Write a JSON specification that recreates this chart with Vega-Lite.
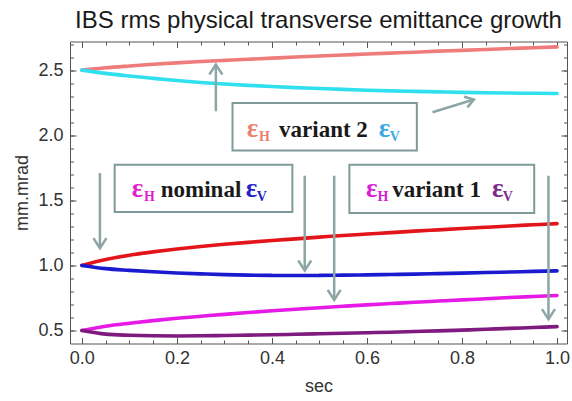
{
  "$schema": "https://vega.github.io/schema/vega-lite/v6.json",
  "width": 497,
  "height": 302,
  "autosize": "none",
  "padding": {"left": 70, "top": 41.5, "right": 5, "bottom": 57.5},
  "background": "white",
  "title": {
    "text": "IBS rms physical transverse emittance growth",
    "font": "Liberation Sans",
    "fontSize": 24,
    "fontWeight": "normal",
    "color": "#1a1a1a",
    "anchor": "middle",
    "offset": 7
  },
  "config": {
    "view": {"stroke": null},
    "axis": {
      "grid": false,
      "domainColor": "#555555",
      "domainWidth": 1,
      "tickColor": "#555555",
      "tickWidth": 1,
      "labelFont": "Liberation Sans",
      "labelFontSize": 18,
      "labelColor": "#333333",
      "titleFont": "Liberation Sans",
      "titleFontSize": 18,
      "titleFontWeight": "normal",
      "titleColor": "#333333"
    }
  },
  "datasets": {
    "curves": [
      {"t": 0.00, "v2H": 2.500, "v2V": 2.500, "nH": 1.000, "nV": 1.000, "v1H": 0.500, "v1V": 0.500},
      {"t": 0.05, "v2H": 2.518, "v2V": 2.475, "nH": 1.045, "nV": 0.975, "v1H": 0.533, "v1V": 0.472},
      {"t": 0.10, "v2H": 2.532, "v2V": 2.455, "nH": 1.078, "nV": 0.962, "v1H": 0.556, "v1V": 0.463},
      {"t": 0.15, "v2H": 2.545, "v2V": 2.437, "nH": 1.104, "nV": 0.951, "v1H": 0.576, "v1V": 0.459},
      {"t": 0.20, "v2H": 2.556, "v2V": 2.420, "nH": 1.126, "nV": 0.942, "v1H": 0.594, "v1V": 0.458},
      {"t": 0.25, "v2H": 2.566, "v2V": 2.405, "nH": 1.145, "nV": 0.935, "v1H": 0.609, "v1V": 0.459},
      {"t": 0.30, "v2H": 2.575, "v2V": 2.393, "nH": 1.162, "nV": 0.929, "v1H": 0.624, "v1V": 0.461},
      {"t": 0.35, "v2H": 2.584, "v2V": 2.383, "nH": 1.177, "nV": 0.925, "v1H": 0.638, "v1V": 0.464},
      {"t": 0.40, "v2H": 2.592, "v2V": 2.374, "nH": 1.191, "nV": 0.923, "v1H": 0.651, "v1V": 0.467},
      {"t": 0.45, "v2H": 2.601, "v2V": 2.366, "nH": 1.204, "nV": 0.922, "v1H": 0.663, "v1V": 0.471},
      {"t": 0.50, "v2H": 2.609, "v2V": 2.359, "nH": 1.217, "nV": 0.923, "v1H": 0.675, "v1V": 0.475},
      {"t": 0.55, "v2H": 2.616, "v2V": 2.352, "nH": 1.230, "nV": 0.925, "v1H": 0.686, "v1V": 0.479},
      {"t": 0.60, "v2H": 2.624, "v2V": 2.346, "nH": 1.241, "nV": 0.927, "v1H": 0.697, "v1V": 0.483},
      {"t": 0.65, "v2H": 2.631, "v2V": 2.341, "nH": 1.252, "nV": 0.930, "v1H": 0.707, "v1V": 0.487},
      {"t": 0.70, "v2H": 2.638, "v2V": 2.337, "nH": 1.263, "nV": 0.933, "v1H": 0.717, "v1V": 0.492},
      {"t": 0.75, "v2H": 2.646, "v2V": 2.333, "nH": 1.273, "nV": 0.937, "v1H": 0.726, "v1V": 0.497},
      {"t": 0.80, "v2H": 2.652, "v2V": 2.329, "nH": 1.283, "nV": 0.941, "v1H": 0.735, "v1V": 0.503},
      {"t": 0.85, "v2H": 2.659, "v2V": 2.326, "nH": 1.293, "nV": 0.945, "v1H": 0.744, "v1V": 0.509},
      {"t": 0.90, "v2H": 2.666, "v2V": 2.324, "nH": 1.303, "nV": 0.949, "v1H": 0.753, "v1V": 0.516},
      {"t": 0.95, "v2H": 2.672, "v2V": 2.322, "nH": 1.312, "nV": 0.954, "v1H": 0.761, "v1V": 0.523},
      {"t": 1.00, "v2H": 2.679, "v2V": 2.320, "nH": 1.321, "nV": 0.958, "v1H": 0.769, "v1V": 0.530}
    ],
    "boxes": [
      {"box": "variant 2", "t0": 0.317, "t1": 0.705, "v0": 1.882, "v1": 2.248},
      {"box": "nominal", "t0": 0.069, "t1": 0.443, "v0": 1.410, "v1": 1.774},
      {"box": "variant 1", "t0": 0.563, "t1": 0.952, "v0": 1.402, "v1": 1.774}
    ],
    "arrows": [
      {"dir": "up", "t": 0.282, "v": 2.184, "t2": 0.282, "v2": 2.543},
      {"dir": "upright", "t": 0.738, "v": 2.176, "t2": 0.825, "v2": 2.274},
      {"dir": "down", "t": 0.038, "v": 1.710, "t2": 0.038, "v2": 1.133},
      {"dir": "down", "t": 0.469, "v": 1.689, "t2": 0.469, "v2": 0.961},
      {"dir": "down", "t": 0.531, "v": 1.689, "t2": 0.531, "v2": 0.735},
      {"dir": "down", "t": 0.982, "v": 1.689, "t2": 0.982, "v2": 0.587}
    ],
    "labels": [
      {"kind": "eps", "ink": "v2H", "text": "ε", "t": 0.347, "v": 1.989},
      {"kind": "sub", "ink": "v2H", "text": "H", "t": 0.373, "v": 1.958},
      {"kind": "word", "ink": "ink", "text": "variant 2", "t": 0.415, "v": 1.989},
      {"kind": "eps", "ink": "v2V", "text": "ε", "t": 0.625, "v": 1.989},
      {"kind": "sub", "ink": "v2V", "text": "V", "t": 0.648, "v": 1.958},
      {"kind": "eps", "ink": "nH", "text": "ε", "t": 0.105, "v": 1.525},
      {"kind": "sub", "ink": "nH", "text": "H", "t": 0.131, "v": 1.492},
      {"kind": "word", "ink": "ink", "text": "nominal", "t": 0.166, "v": 1.525},
      {"kind": "eps", "ink": "nV", "text": "ε", "t": 0.345, "v": 1.525},
      {"kind": "sub", "ink": "nV", "text": "V", "t": 0.368, "v": 1.492},
      {"kind": "eps", "ink": "v1H", "text": "ε", "t": 0.598, "v": 1.525},
      {"kind": "sub", "ink": "v1H", "text": "H", "t": 0.622, "v": 1.492},
      {"kind": "word", "ink": "ink", "text": "variant 1", "t": 0.653, "v": 1.525},
      {"kind": "eps", "ink": "v1V", "text": "ε", "t": 0.863, "v": 1.525},
      {"kind": "sub", "ink": "v1V", "text": "V", "t": 0.886, "v": 1.492}
    ]
  },
  "layer": [
    {
      "data": {"name": "boxes"},
      "mark": {"type": "rect", "fill": "white", "stroke": "#7f9b99", "strokeWidth": 2},
      "encoding": {
        "x": {"field": "t0", "type": "quantitative",
              "scale": {"domain": [-0.025, 1.021], "nice": false, "zero": false},
              "axis": {"orient": "bottom", "values": [0, 0.05, 0.1, 0.15, 0.2, 0.25, 0.3, 0.35, 0.4, 0.45, 0.5, 0.55, 0.6, 0.65, 0.7, 0.75, 0.8, 0.85, 0.9, 0.95, 1.0],
                       "tickSize": -3.5, "labels": false, "domain": false, "title": null}},
        "x2": {"field": "t1"},
        "y": {"field": "v0", "type": "quantitative",
              "scale": {"domain": [0.40, 2.72], "nice": false, "zero": false},
              "axis": {"orient": "left", "values": [0.5, 0.6, 0.7, 0.8, 0.9, 1.0, 1.1, 1.2, 1.3, 1.4, 1.5, 1.6, 1.7, 1.8, 1.9, 2.0, 2.1, 2.2, 2.3, 2.4, 2.5, 2.6, 2.7],
                       "tickSize": -3.5, "labels": false, "domain": false, "title": null}},
        "y2": {"field": "v1"}
      }
    },
    {
      "data": {"name": "curves"},
      "transform": [{"fold": ["v2H", "v2V", "nH", "nV", "v1H", "v1V"], "as": ["series", "v"]}],
      "mark": {"type": "line", "strokeWidth": 3.6, "strokeCap": "round", "interpolate": "monotone"},
      "encoding": {
        "x": {"field": "t", "type": "quantitative",
              "scale": {"domain": [-0.025, 1.021], "nice": false, "zero": false},
              "axis": {"orient": "bottom", "values": [0, 0.2, 0.4, 0.6, 0.8, 1.0], "format": ".1f",
                       "tickSize": -6, "labelPadding": 11.5, "labelFlush": false,
                       "domain": true, "title": "sec", "titlePadding": 10}},
        "y": {"field": "v", "type": "quantitative",
              "scale": {"domain": [0.40, 2.72], "nice": false, "zero": false},
              "axis": {"orient": "left", "values": [0.5, 1.0, 1.5, 2.0, 2.5], "format": ".1f",
                       "tickSize": -6, "labelPadding": 13, "labelFlush": false,
                       "domain": true, "title": "mm.mrad", "titlePadding": 6}},
        "color": {"field": "series", "type": "nominal",
                  "scale": {"domain": ["v2H", "v2V", "nH", "nV", "v1H", "v1V"],
                            "range": ["#EE7C7A", "#30E0EE", "#E3151A", "#1A1ACF", "#E619E6", "#7F1A7F"]},
                  "legend": null}
      }
    },
    {
      "data": {"name": "arrows"},
      "mark": {"type": "rule", "color": "#8ba6a4", "strokeWidth": 2.5},
      "encoding": {
        "x": {"field": "t", "type": "quantitative",
              "scale": {"domain": [-0.025, 1.021], "nice": false, "zero": false},
              "axis": {"orient": "top", "values": [0, 0.2, 0.4, 0.6, 0.8, 1.0],
                       "tickSize": -6, "labels": false, "domain": true, "title": null}},
        "x2": {"field": "t2"},
        "y": {"field": "v", "type": "quantitative",
              "scale": {"domain": [0.40, 2.72], "nice": false, "zero": false},
              "axis": {"orient": "right", "values": [0.5, 1.0, 1.5, 2.0, 2.5],
                       "tickSize": -6, "labels": false, "domain": true, "title": null}},
        "y2": {"field": "v2"}
      }
    },
    {
      "data": {"name": "arrows"},
      "mark": {"type": "point", "filled": false, "color": "#8ba6a4", "strokeWidth": 2.5, "size": 400, "opacity": 1},
      "encoding": {
        "x": {"field": "t2", "type": "quantitative",
              "scale": {"domain": [-0.025, 1.021], "nice": false, "zero": false},
              "axis": {"orient": "top", "values": [0, 0.05, 0.1, 0.15, 0.2, 0.25, 0.3, 0.35, 0.4, 0.45, 0.5, 0.55, 0.6, 0.65, 0.7, 0.75, 0.8, 0.85, 0.9, 0.95, 1.0],
                       "tickSize": -3.5, "labels": false, "domain": false, "title": null}},
        "y": {"field": "v2", "type": "quantitative",
              "scale": {"domain": [0.40, 2.72], "nice": false, "zero": false},
              "axis": {"orient": "right", "values": [0.5, 0.6, 0.7, 0.8, 0.9, 1.0, 1.1, 1.2, 1.3, 1.4, 1.5, 1.6, 1.7, 1.8, 1.9, 2.0, 2.1, 2.2, 2.3, 2.4, 2.5, 2.6, 2.7],
                       "tickSize": -3.5, "labels": false, "domain": false, "title": null}},
        "shape": {"field": "dir", "type": "nominal",
                  "scale": {"domain": ["down", "up", "upright"],
                            "range": ["M-0.65,-1L0,0L0.65,-1", "M-0.65,1L0,0L0.65,1", "M-0.975,-0.278L0,0L-0.65,0.78"]},
                  "legend": null}
      }
    },
    {
      "data": {"name": "labels"},
      "transform": [{"filter": "datum.kind === 'word'"}],
      "mark": {"type": "text", "font": "Liberation Serif", "fontSize": 23, "fontWeight": "bold", "align": "left", "baseline": "alphabetic"},
      "encoding": {
        "x": {"field": "t", "type": "quantitative", "scale": {"domain": [-0.025, 1.021], "nice": false, "zero": false}, "axis": null},
        "y": {"field": "v", "type": "quantitative", "scale": {"domain": [0.40, 2.72], "nice": false, "zero": false}, "axis": null},
        "text": {"field": "text"},
        "color": {"field": "ink", "type": "nominal",
                  "scale": {"domain": ["v2H", "v2V", "nH", "nV", "v1H", "v1V", "ink"],
                            "range": ["#E9836F", "#3DA9E3", "#E01ED2", "#2323C8", "#D81ED8", "#7A2A8A", "#1a1a1a"]},
                  "legend": null}
      }
    },
    {
      "data": {"name": "labels"},
      "transform": [{"filter": "datum.kind === 'eps'"}],
      "mark": {"type": "text", "font": "Liberation Serif", "fontSize": 27, "fontWeight": "bold", "align": "left", "baseline": "alphabetic"},
      "encoding": {
        "x": {"field": "t", "type": "quantitative", "scale": {"domain": [-0.025, 1.021], "nice": false, "zero": false}, "axis": null},
        "y": {"field": "v", "type": "quantitative", "scale": {"domain": [0.40, 2.72], "nice": false, "zero": false}, "axis": null},
        "text": {"field": "text"},
        "color": {"field": "ink", "type": "nominal",
                  "scale": {"domain": ["v2H", "v2V", "nH", "nV", "v1H", "v1V", "ink"],
                            "range": ["#E9836F", "#3DA9E3", "#E01ED2", "#2323C8", "#D81ED8", "#7A2A8A", "#1a1a1a"]},
                  "legend": null}
      }
    },
    {
      "data": {"name": "labels"},
      "transform": [{"filter": "datum.kind === 'sub'"}],
      "mark": {"type": "text", "font": "Liberation Serif", "fontSize": 14, "fontWeight": "bold", "align": "left", "baseline": "alphabetic"},
      "encoding": {
        "x": {"field": "t", "type": "quantitative", "scale": {"domain": [-0.025, 1.021], "nice": false, "zero": false}, "axis": null},
        "y": {"field": "v", "type": "quantitative", "scale": {"domain": [0.40, 2.72], "nice": false, "zero": false}, "axis": null},
        "text": {"field": "text"},
        "color": {"field": "ink", "type": "nominal",
                  "scale": {"domain": ["v2H", "v2V", "nH", "nV", "v1H", "v1V", "ink"],
                            "range": ["#E9836F", "#3DA9E3", "#E01ED2", "#2323C8", "#D81ED8", "#7A2A8A", "#1a1a1a"]},
                  "legend": null}
      }
    }
  ],
  "resolve": {
    "axis": {"x": "independent", "y": "independent"},
    "scale": {"color": "independent"}
  }
}
